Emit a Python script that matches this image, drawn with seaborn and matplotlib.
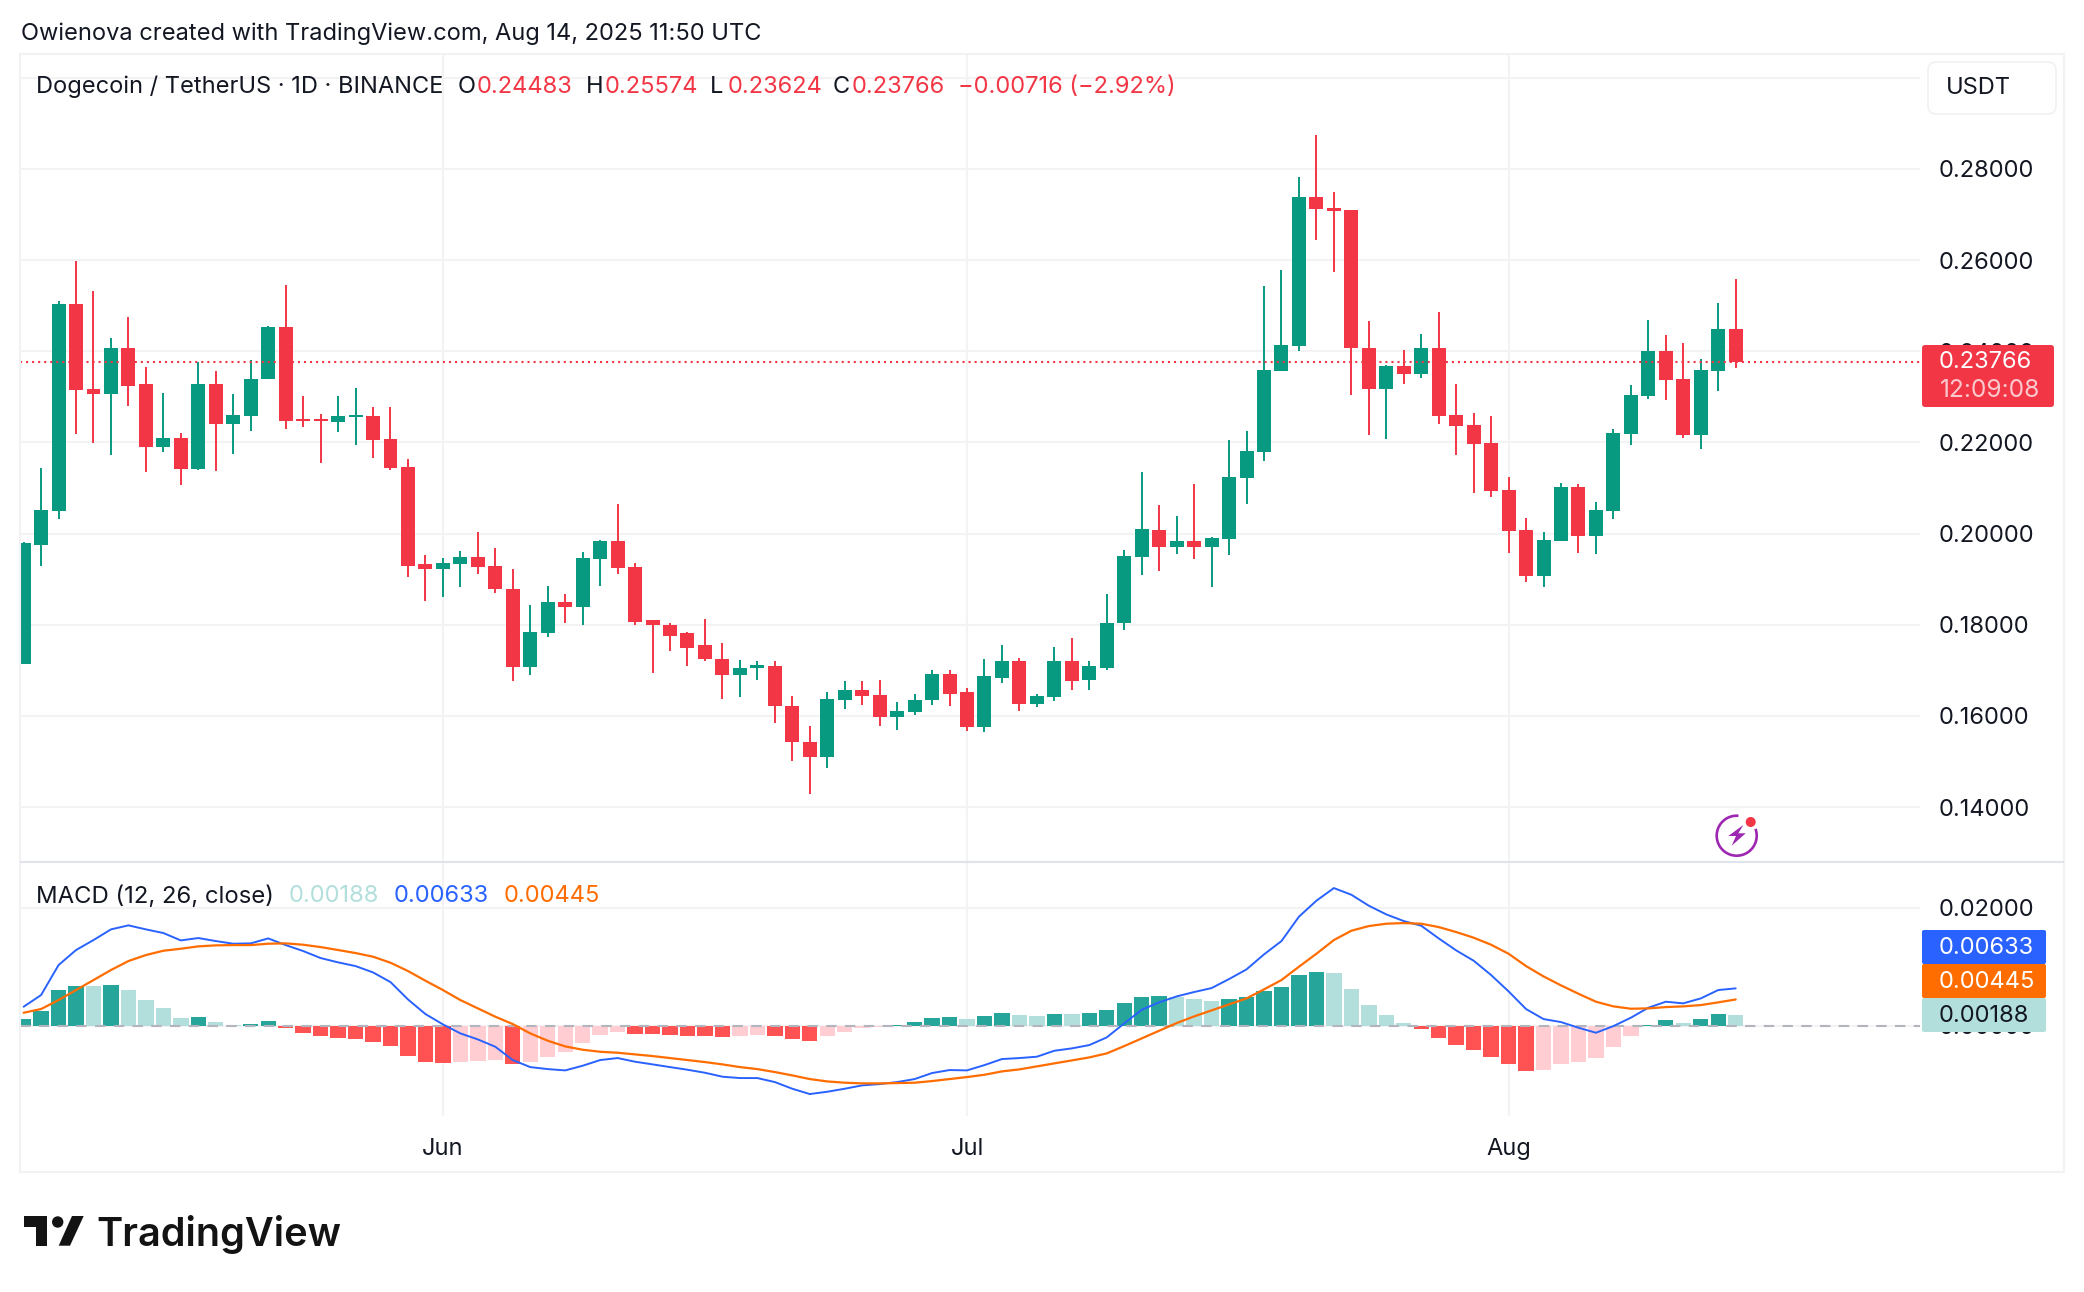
import matplotlib
matplotlib.use("Agg")
import matplotlib.pyplot as plt
from matplotlib.patches import Rectangle, Circle, Polygon, Arc, FancyBboxPatch
import numpy as np
import pandas as pd
import seaborn as sns

# ---------- data ----------
direction = ("GGGRRGRRGR" "GRGGGRRRGG" "RRRRGGRRRG" "GRGGRRRRRR" "RGGRRRGGRR"
             "GGGRRGGRGG" "RGGGGRGRGG" "GGGGRRRRGR" "GRRRRRRGGR" "GGGGRRGGR")
highs = [.1982,.2143,.2510,.2597,.2533,.2430,.2474,.2366,.2309,.2221,
         .2376,.2357,.2307,.2380,.2456,.2545,.2302,.2263,.2302,.2320,
         .2278,.2278,.2163,.1953,.1946,.1961,.2003,.1968,.1922,.1843,
         .1885,.1867,.1959,.1986,.2065,.1935,.1811,.1803,.1784,.1812,
         .1761,.1722,.1720,.1720,.1643,.1577,.1652,.1676,.1676,.1680,
         .1630,.1649,.1700,.1700,.1662,.1726,.1755,.1728,.1649,.1752,
         .1772,.1720,.1867,.1963,.2136,.2063,.2039,.2109,.1993,.2206,
         .2224,.2543,.2578,.2782,.2875,.2749,.2710,.2466,.2369,.2402,
         .2437,.2485,.2327,.2265,.2257,.2125,.2034,.2004,.2111,.2109,
         .2070,.2230,.2325,.2468,.2435,.2417,.2382,.2505,.25574]
body_top = [.1979,.2051,.2504,.2504,.2317,.2406,.2406,.2327,.2210,.2210,
            .2328,.2328,.2260,.2339,.2454,.2454,.2252,.2252,.2259,.2260,
            .2259,.2208,.2147,.1933,.1935,.1948,.1948,.1928,.1878,.1785,
            .1849,.1849,.1946,.1983,.1983,.1926,.1810,.1800,.1781,.1755,
            .1726,.1706,.1711,.1709,.1623,.1544,.1638,.1656,.1656,.1645,
            .1610,.1636,.1693,.1693,.1652,.1687,.1720,.1720,.1643,.1720,
            .1720,.1709,.1805,.1950,.2009,.2008,.1984,.1984,.1990,.2125,
            .2182,.2358,.2413,.2738,.2738,.2714,.2710,.2406,.2367,.2367,
            .2406,.2406,.2261,.2239,.2199,.2096,.2008,.1986,.2103,.2103,
            .2052,.2221,.2303,.2400,.2400,.2338,.2358,.24483,.24483]
body_bottom = [.1715,.1976,.2050,.2316,.2307,.2307,.2324,.2190,.2190,.2142,
               .2142,.2241,.2241,.2259,.2338,.2248,.2248,.2248,.2245,.2256,
               .2205,.2144,.1930,.1922,.1922,.1933,.1926,.1878,.1707,.1707,
               .1783,.1838,.1838,.1944,.1924,.1807,.1799,.1776,.1750,.1724,
               .1691,.1691,.1706,.1621,.1542,.1511,.1511,.1636,.1643,.1597,
               .1597,.1608,.1634,.1649,.1575,.1575,.1684,.1627,.1627,.1641,
               .1676,.1678,.1706,.1803,.1948,.1971,.1971,.1971,.1971,.1988,
               .2122,.2180,.2356,.2411,.2712,.2708,.2406,.2318,.2318,.2351,
               .2351,.2259,.2237,.2197,.2094,.2006,.1907,.1907,.1984,.1995,
               .1995,.2050,.2219,.2301,.2336,.2217,.2217,.2356,.23766]
lows = [.1715,.1928,.2032,.2219,.2199,.2173,.2280,.2135,.2179,.2106,
        .2139,.2137,.2174,.2226,.2338,.2230,.2234,.2155,.2223,.2195,
        .2166,.2140,.1904,.1853,.1862,.1882,.1911,.1869,.1677,.1691,
        .1774,.1803,.1800,.1886,.1911,.1799,.1695,.1743,.1710,.1720,
        .1638,.1641,.1678,.1584,.1502,.1428,.1485,.1616,.1625,.1579,
        .1570,.1603,.1625,.1621,.1568,.1566,.1673,.1612,.1619,.1632,
        .1656,.1658,.1700,.1788,.1910,.1918,.1955,.1944,.1883,.1953,
        .2065,.2160,.2356,.2400,.2644,.2573,.2305,.2217,.2208,.2329,
        .2342,.2241,.2173,.2089,.2081,.1957,.1894,.1883,.1984,.1957,
        .1955,.2032,.2195,.2296,.2294,.2210,.2186,.2312,.23624]

hist_values = [.00113,.00249,.00605,.00672,.00672,.00689,.00605,.00435,.00299,.00130,
               .00147,.00062,.00011,.00028,.00079,-.00034,-.00124,-.00175,-.00209,-.00226,
               -.00277,-.00345,-.00514,-.00616,-.00633,-.00616,-.00599,-.00582,-.00650,-.00616,
               -.00531,-.00446,-.00294,-.00158,-.00107,-.00141,-.00141,-.00158,-.00175,-.00175,
               -.00192,-.00175,-.00158,-.00175,-.00226,-.00260,-.00175,-.00107,-.00040,-.00023,
               .00011,.00062,.00130,.00147,.00113,.00164,.00215,.00181,.00164,.00198,
               .00198,.00215,.00266,.00384,.00486,.00503,.00486,.00452,.00418,.00452,
               .00486,.00588,.00655,.00859,.00910,.00893,.00622,.00350,.00181,.00045,
               -.00057,-.00209,-.00328,-.00412,-.00531,-.00650,-.00768,-.00751,-.00650,-.00616,
               -.00548,-.00362,-.00175,.00011,.00096,.00045,.00113,.00198,.00188]
hist_shade = ("1111" "0" "1" "0000" "1" "00" "11" "1111111111" "000" "1" "000000"
              "111111" "00" "111" "0000" "1111" "0" "11" "00" "1" "0" "11111" "000"
              "111111" "00000" "1111111" "000000" "11" "0" "11" "0")
macd_line = [.00322,.00520,.01028,.01283,.01452,.01633,.01701,.01633,.01571,.01446,
             .01486,.01435,.01390,.01396,.01480,.01367,.01266,.01147,.01074,.01011,
             .00904,.00740,.00446,.00198,.00023,-.00130,-.00232,-.00356,-.00582,-.00701,
             -.00735,-.00757,-.00678,-.00582,-.00548,-.00610,-.00655,-.00701,-.00746,-.00797,
             -.00864,-.00887,-.00887,-.00955,-.01068,-.01158,-.01119,-.01068,-.01011,-.00989,
             -.00955,-.00904,-.00802,-.00751,-.00757,-.00667,-.00565,-.00548,-.00525,-.00424,
             -.00384,-.00328,-.00198,.00040,.00271,.00396,.00497,.00571,.00638,.00791,
             .00955,.01209,.01435,.01848,.02119,.02333,.02220,.02034,.01887,.01774,
             .01695,.01480,.01277,.01102,.00859,.00582,.00283,.00113,.00062,-.00034,
             -.00119,-.00006,.00136,.00305,.00407,.00379,.00463,.00605,.00633]
signal_line = [.00220,.00283,.00435,.00605,.00774,.00944,.01096,.01198,.01271,.01305,
               .01345,.01362,.01367,.01367,.01390,.01396,.01373,.01333,.01283,.01232,
               .01170,.01068,.00927,.00763,.00605,.00435,.00294,.00153,.00028,-.00130,
               -.00254,-.00350,-.00407,-.00441,-.00458,-.00486,-.00514,-.00548,-.00582,-.00616,
               -.00655,-.00701,-.00735,-.00785,-.00842,-.00904,-.00944,-.00966,-.00977,-.00977,
               -.00972,-.00966,-.00938,-.00904,-.00870,-.00831,-.00774,-.00740,-.00689,-.00638,
               -.00588,-.00537,-.00469,-.00345,-.00215,-.00085,.00045,.00158,.00260,.00362,
               .00463,.00616,.00774,.01000,.01220,.01452,.01610,.01689,.01729,.01740,
               .01729,.01672,.01588,.01492,.01373,.01220,.01011,.00836,.00684,.00542,
               .00407,.00328,.00288,.00294,.00316,.00328,.00350,.00396,.00445]

price_ticks = [.14,.16,.18,.20,.22,.24,.26,.28,.30]
price_tick_labels = ["0.14000","0.16000","0.18000","0.20000","0.22000","0.24000","0.26000","0.28000",""]
macd_ticks = [0.0, 0.02]
macd_tick_labels = ["0.00000", "0.02000"]
month_days = [24, 54, 85]
month_labels = ["Jun", "Jul", "Aug"]
last_close = 0.23766

assert len(direction)==len(highs)==len(body_top)==len(body_bottom)==len(lows)==99
assert len(hist_values)==len(hist_shade)==len(macd_line)==len(signal_line)==99

# ---------- styling ----------
W, H = 2084, 1292
FONT = "Inter"
INK = "#131722"
UP, DOWN = "#089981", "#F23645"
GRID = "#f3f3f4"
FS = 17
sns.set_theme(style="white", rc={"font.family": FONT, "text.color": INK,
                                 "axes.facecolor": "white", "figure.facecolor": "white"})

fig = plt.figure(figsize=(W/100, H/100), dpi=100)
def px_axes(x0, y0, x1, y1, **kw):
    return fig.add_axes([x0/W, 1-y1/H, (x1-x0)/W, (y1-y0)/H], **kw)

ax_p = px_axes(20, 54, 1920, 861)
ax_m = px_axes(20, 862, 1920, 1116)

days = np.arange(len(highs))
df = pd.DataFrame({"day": days, "high": highs, "low": lows, "body_top": body_top, "body_bottom": body_bottom,
                   "dir": list(direction), "macd_hist": hist_values, "macd": macd_line, "signal": signal_line,
                   "shade": list(hist_shade)})
df["bar"] = np.where(df["macd_hist"] >= 0, np.where(df["shade"] == "1", "pos_strong", "pos_weak"),
                     np.where(df["shade"] == "1", "neg_strong", "neg_weak"))
colors = df["dir"].map({"G": UP, "R": DOWN})
xlim = (-0.207, 108.55)

# ---------- price pane ----------
ax_p.vlines(df["day"], df["low"], df["high"], colors=colors, linewidth=1.4, zorder=3)
ax_p.bar(df["day"], df["body_top"] - df["body_bottom"], bottom=df["body_bottom"], width=0.8,
         color=colors, linewidth=0, zorder=4)
ax_p.axhline(last_close, color=DOWN, linewidth=1.5, linestyle=(0, (1, 1.9)), zorder=5)
ax_p.set_xlim(*xlim)
ax_p.set_ylim(.1282, .30518)
ax_p.set_yticks(price_ticks, price_tick_labels)
ax_p.set_xticks(month_days, [])

# ---------- MACD pane ----------
sns.barplot(data=df, x="day", y="macd_hist", hue="bar", native_scale=True, dodge=False, width=0.88,
            hue_order=["pos_strong", "pos_weak", "neg_strong", "neg_weak"],
            palette=["#26a69a", "#b2dfdb", "#ff5252", "#ffcdd2"], saturation=1,
            linewidth=0, errorbar=None, legend=False, ax=ax_m, zorder=3)
ax_m.axhline(0, color="#b2b5be", linewidth=1.5, linestyle=(0, (5, 4)), zorder=4)
sns.lineplot(data=df, x="day", y="macd", color="#2962FF", linewidth=1.4, estimator=None, ax=ax_m, zorder=5)
sns.lineplot(data=df, x="day", y="signal", color="#FF6D00", linewidth=1.6, estimator=None, ax=ax_m, zorder=6)
ax_m.set_xlim(*xlim)
ax_m.set_ylim(-.0153, .02775)
ax_m.set_yticks(macd_ticks, macd_tick_labels)
ax_m.set_xticks(month_days, month_labels)
ax_m.set_xlabel(""); ax_m.set_ylabel("")

for ax in (ax_p, ax_m):
    ax.grid(True, color=GRID, linewidth=1.5, zorder=0)
    ax.set_axisbelow(True)
    ax.yaxis.tick_right()
    for s in ax.spines.values():
        s.set_visible(False)
    ax.tick_params(axis="y", length=0, pad=13.6, labelsize=FS, labelcolor=INK, labelright=True, labelleft=False)
    ax.tick_params(axis="x", length=0, pad=15.5, labelsize=FS, labelcolor=INK)
    ax.patch.set_alpha(0)

# ---------- pixel overlay: frame, legends, value tags, logo ----------
ov = fig.add_axes([0, 0, 1, 1], zorder=10)
ov.set_xlim(0, W); ov.set_ylim(H, 0); ov.axis("off"); ov.patch.set_alpha(0)

ov.add_patch(Rectangle((20, 54), 2044, 1118, fill=False, edgecolor="#f2f2f3", linewidth=1.5))
ov.plot([20, 2064], [861.5, 861.5], color="#e0e3eb", linewidth=1.5, solid_capstyle="butt")

DY = 2
def T(x, y, s, color=INK, size=FS, **kw):
    ov.text(x, y + DY, s, color=color, fontsize=size, va="center", ha=kw.pop("ha", "left"), **kw)

T(21, 32, "Owienova created with TradingView.com, Aug 14, 2025 11:50 UTC", size=17.03)
T(36, 85, "Dogecoin / TetherUS · 1D · BINANCE")
for x, s, c in [(458, "O", INK), (477, "0.24483", DOWN), (586, "H", INK), (605, "0.25574", DOWN),
                (710, "L", INK), (728, "0.23624", DOWN), (833, "C", INK), (852, "0.23766", DOWN),
                (958, "−0.00716 (−2.92%)", DOWN)]:
    T(x, 85, s, color=c)

T(36, 894.5, "MACD (12, 26, close)", size=17.2)
for x, s, c in [(289, "0.00188", "#b2dfdb"), (394, "0.00633", "#2962FF"), (504, "0.00445", "#FF6D00")]:
    T(x, 894.5, s, color=c)

# currency box
ov.add_patch(FancyBboxPatch((1928, 62), 128, 52, boxstyle="round,pad=0,rounding_size=8",
                            facecolor="white", edgecolor="#f0f1f3", linewidth=1.2))
T(1946, 86.5, "USDT")

# last price tag
ov.add_patch(FancyBboxPatch((1922, 345), 132, 62, boxstyle="round,pad=0,rounding_size=3",
                            facecolor=DOWN, edgecolor="none"))
T(1939, 360.5, "0.23766", color="white")
T(1940, 388.5, "12:09:08", color="#fbc9cd", size=17.6)

# MACD value tags
for y0, y1, fc, s, tc in [(930, 964, "#2962FF", "0.00633", "white"),
                          (964, 998, "#FF6D00", "0.00445", "white"),
                          (998, 1032, "#B2DFDB", "0.00188", INK)]:
    ov.add_patch(FancyBboxPatch((1922, y0), 124, y1-y0, boxstyle="round,pad=0,rounding_size=2",
                                facecolor=fc, edgecolor="none"))
    T(1939, (y0+y1)/2 - 1, s, color=tc)

# TradingView logo
LOGO = "#131313"
ov.add_patch(Polygon([(24, 1216), (46.7, 1216), (46.7, 1245.7), (36, 1245.7), (36, 1227.3), (24, 1227.3)],
                     facecolor=LOGO, edgecolor="none"))
ov.add_patch(Circle((57.7, 1222), 5.7, facecolor=LOGO, edgecolor="none"))
ov.add_patch(Polygon([(72, 1216), (83.7, 1216), (70, 1245.7), (58.7, 1245.7)], facecolor=LOGO, edgecolor="none"))
ov.text(96, 1245.5, "TradingView", color=LOGO, fontsize=28.6, fontweight="semibold", va="baseline", ha="left")

# lightning badge
PURPLE = "#9C27B0"
ov.add_patch(Arc((1736.7, 835.7), 40, 40, theta1=-20, theta2=275, edgecolor=PURPLE, linewidth=1.9))
ov.add_patch(Polygon([(1743.3, 825), (1728.3, 836), (1736, 836), (1731.7, 845.7),
                      (1745.7, 833.3), (1738.3, 833.3)], facecolor=PURPLE, edgecolor="none"))
ov.add_patch(Circle((1750.7, 822), 5, facecolor=DOWN, edgecolor="none"))

fig.savefig("out.png", dpi=100)
